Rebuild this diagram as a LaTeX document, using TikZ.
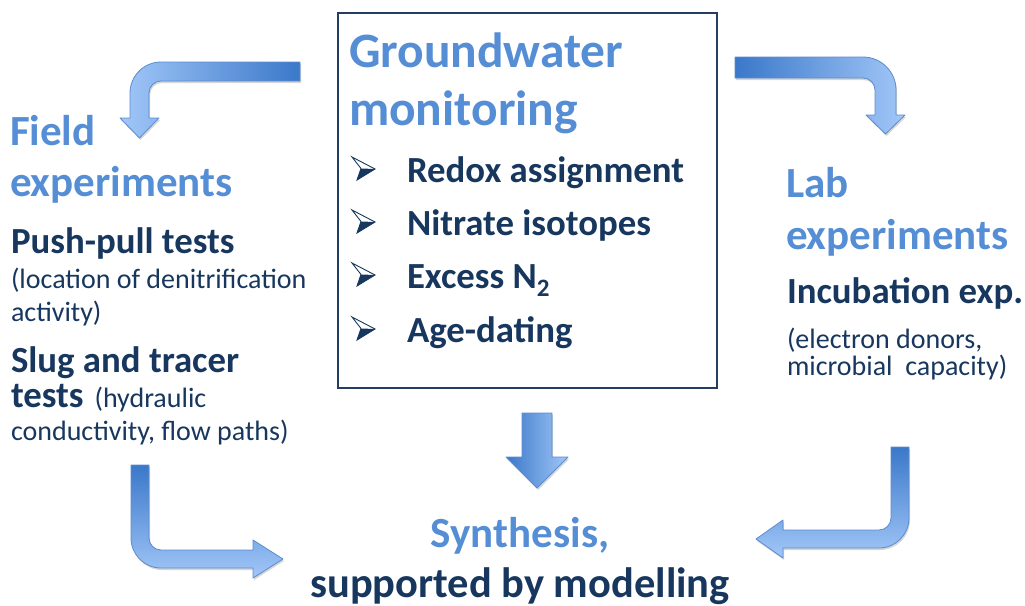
\documentclass[tikz,border=0pt]{standalone}
\usepackage{fontspec}
\setmainfont{Carlito}
\usetikzlibrary{shadows}

\definecolor{headblue}{RGB}{85,142,213}
\definecolor{navy}{RGB}{23,55,94}
\definecolor{boxline}{RGB}{36,62,96}
\definecolor{arrdark}{RGB}{58,120,201}
\definecolor{arrlight}{RGB}{162,199,248}
\definecolor{arredge}{RGB}{92,140,206}

\tikzset{
  txt/.style={anchor=base west, inner sep=0pt, outer sep=0pt},
  ctxt/.style={anchor=base, inner sep=0pt, outer sep=0pt},
  titletext/.style={text=headblue, font=\bfseries\fontsize{49.5}{58}\selectfont},
  headtext/.style={text=headblue, font=\bfseries\fontsize{43}{51}\selectfont},
  subtext/.style={text=navy, font=\bfseries\fontsize{36.8}{44}\selectfont},
  notetext/.style={text=navy, font=\fontsize{28}{33}\selectfont},
  blockarrow/.style={draw=arredge, line width=0.8pt, line join=round,
    drop shadow={shadow xshift=1pt, shadow yshift=-2pt, opacity=0.16, fill=black}},
}

\begin{document}
\begin{tikzpicture}[x=1pt, y=-1pt]
\useasboundingbox (0,0) rectangle (1025,605);

% ---- central box: groundwater monitoring ----
\draw[boxline, line width=2pt] (338,13) rectangle (717,388);
\node[txt, titletext] (gw1) at (349,67) {Groundwater};
\node[txt, titletext] (gw2) at (349,125) {monitoring};
\foreach \yy/\nm/\lbl in {182/b1/{Redox assignment},
                           235/b2/{Nitrate isotopes},
                           288/b3/{Excess N\raisebox{-8pt}{\fontsize{25}{25}\selectfont 2}},
                           342/b4/{Age-dating}}{
  % arrowhead bullet: light upper half, dark lower half
  \begin{scope}[shift={(0,\yy)}]
    \fill[white] (352,-25) -- (375,-13) -- (361,-13.5) -- cycle;
    \fill[navy] (361,-13.5) -- (375,-13) -- (357,-2) -- cycle;
    \draw[navy, line width=0.9pt, line join=miter]
      (352,-25) -- (375,-13) -- (357,-2) -- (361,-13.5) -- cycle;
  \end{scope}
  \node[txt, subtext] (\nm) at (407,\yy) {\lbl};
}

% ---- left column: field experiments ----
\node[txt, headtext] (f1) at (10,145) {Field};
\node[txt, headtext] (f2) at (10,196) {experiments};
\node[txt, subtext] (pp) at (11,253) {Push-pull tests};
\node[txt, notetext] (pp1) at (11,288) {(location of denitrification};
\node[txt, notetext] (pp2) at (11,321) {activity)};
\node[txt, subtext] (sl1) at (11,372) {Slug and tracer};
\node[txt, subtext] (sl2) at (11,407) {tests\hspace{11pt}{\mdseries\fontsize{28}{33}\selectfont(hydraulic}};
\node[txt, notetext] (sl3) at (11,440) {conductivity, flow paths)};

% ---- right column: lab experiments ----
\node[txt, headtext] (l1) at (786,197) {Lab};
\node[txt, headtext] (l2) at (786,249) {experiments};
\node[txt, subtext] (ie) at (787,303) {Incubation exp.};
\node[txt, notetext] (ie1) at (787,348) {(electron donors,};
\node[txt, notetext] (ie2) at (787,375) {microbial\ \ capacity)};

% ---- bottom: synthesis ----
\node[ctxt, headtext] (s1) at (520,547) {Synthesis,};
\node[ctxt, subtext, font=\bfseries\fontsize{42.5}{50}\selectfont] (s2) at (520,597) {supported by modelling};

% ---- block arrows ----
% box -> field experiments
\path[blockarrow, left color=arrlight, right color=arrdark]
  (300,62) -- (161,62) .. controls (143.9,62) and (130,75.9) .. (130,93)
  -- (130,118) -- (120,118) -- (139.5,138) -- (159,118) -- (149,118)
  -- (149,93) .. controls (149,86.4) and (154.4,81) .. (161,81)
  -- (300,81) -- cycle;
% box -> lab experiments
\path[blockarrow, left color=arrdark, right color=arrlight]
  (735,57) -- (863,57) .. controls (881.2,57) and (896,71.8) .. (896,90)
  -- (896,115) -- (905,115) -- (885.5,134) -- (866,115) -- (875,115)
  -- (875,90) .. controls (875,83.4) and (869.6,78) .. (863,78)
  -- (735,78) -- cycle;
% field experiments -> synthesis
\path[blockarrow, top color=arrdark, bottom color=arrlight]
  (131,465) -- (149,465) -- (149,538) .. controls (149,544.6) and (154.4,550) .. (161,550)
  -- (253,550) -- (253,540) -- (283,559) -- (253,578) -- (253,568)
  -- (161,568) .. controls (144.4,568) and (131,554.6) .. (131,538) -- cycle;
% lab experiments -> synthesis
\path[blockarrow, top color=arrdark, bottom color=arrlight]
  (891,447) -- (909,447) -- (909,518) .. controls (909,534.6) and (895.6,548) .. (879,548)
  -- (783,548) -- (783,558) -- (756,539) -- (783,520) -- (783,530)
  -- (879,530) .. controls (885.6,530) and (891,524.6) .. (891,518) -- cycle;
% box -> synthesis
\path[blockarrow, left color=arrdark, right color=arrlight]
  (522,413) -- (552,413) -- (552,457) -- (568,457) -- (537,488)
  -- (506,457) -- (522,457) -- cycle;
\end{tikzpicture}
\end{document}
